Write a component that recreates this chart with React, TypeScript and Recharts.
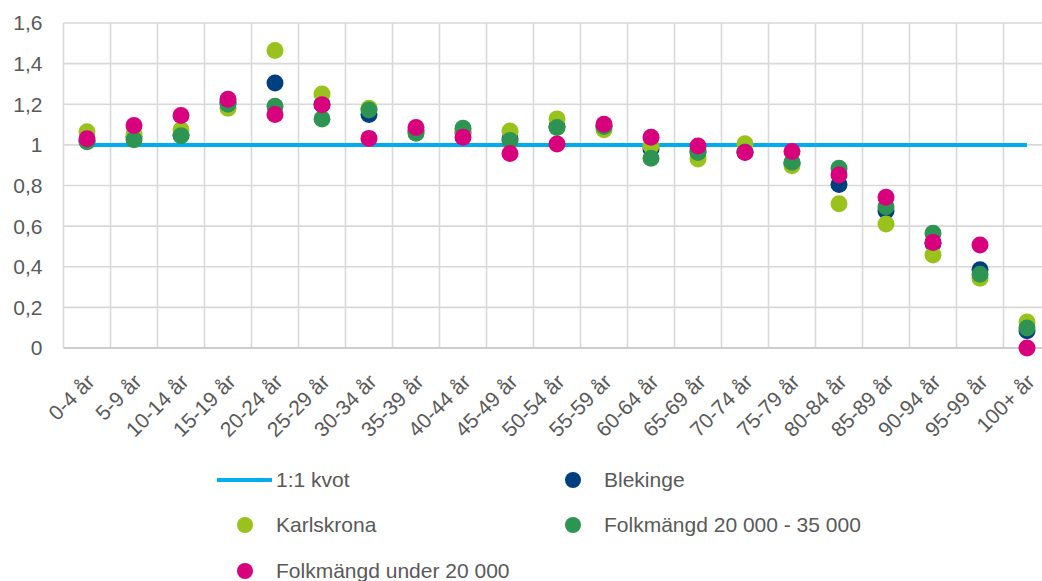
import { ComposedChart, Line, Scatter, XAxis, YAxis, CartesianGrid } from "recharts"

const ageGroups = [
  "0-4 år", "5-9 år", "10-14 år", "15-19 år", "20-24 år", "25-29 år", "30-34 år",
  "35-39 år", "40-44 år", "45-49 år", "50-54 år", "55-59 år", "60-64 år", "65-69 år",
  "70-74 år", "75-79 år", "80-84 år", "85-89 år", "90-94 år", "95-99 år", "100+ år",
]

const blekinge = [1.02, 1.04, 1.05, 1.21, 1.305, 1.2, 1.15, 1.07, 1.06, 1.03, 1.09, 1.09, 0.98, 0.97, 0.965, 0.91, 0.805, 0.675, 0.515, 0.385, 0.085]
const karlskrona = [1.065, 1.055, 1.075, 1.18, 1.465, 1.25, 1.18, 1.07, 1.07, 1.068, 1.128, 1.075, 0.995, 0.93, 1.005, 0.897, 0.71, 0.61, 0.458, 0.343, 0.128]
const folk20to35 = [1.015, 1.025, 1.045, 1.2, 1.19, 1.128, 1.172, 1.057, 1.082, 1.021, 1.085, 1.09, 0.934, 0.962, 0.965, 0.914, 0.885, 0.696, 0.565, 0.363, 0.098]
const folkUnder20 = [1.03, 1.095, 1.145, 1.225, 1.15, 1.198, 1.032, 1.085, 1.037, 0.958, 1.004, 1.101, 1.037, 0.995, 0.963, 0.967, 0.852, 0.742, 0.52, 0.507, 0]
const kvot = ageGroups.map(() => 1)

const yTicks = [0, 0.2, 0.4, 0.6, 0.8, 1, 1.2, 1.4, 1.6]

const series = [
  { key: "blekinge", name: "Blekinge", color: "#003f7f" },
  { key: "karlskrona", name: "Karlskrona", color: "#99c31c" },
  { key: "folk20to35", name: "Folkmängd 20 000 - 35 000", color: "#2e9452" },
  { key: "folkUnder20", name: "Folkmängd under 20 000", color: "#d9007e" },
]
const lineColor = "#00adef"

const rows = ageGroups.map((g, i) => ({
  x: i,
  group: g,
  kvot: kvot[i],
  blekinge: blekinge[i],
  karlskrona: karlskrona[i],
  folk20to35: folk20to35[i],
  folkUnder20: folkUnder20[i],
}))

const FONT = "'Liberation Sans', Arial, sans-serif"
const TEXT = "#595959"

const fmt = (v: number) => String(Number(v.toFixed(1))).replace(".", ",")

function AgeTick({ x, y, payload }: any) {
  const tx = x + 9
  const ty = y + 35
  return (
    <text x={tx} y={ty} transform={`rotate(-45, ${tx}, ${ty})`} textAnchor="end"
      fill={TEXT} fontSize={21} fontFamily={FONT}>
      {ageGroups[payload.value]}
    </text>
  )
}

const dot = (color: string) => (props: any) =>
  <circle cx={props.cx} cy={props.cy} r={8.5} fill={color} />

const legendItems = [
  { name: "1:1 kvot", color: lineColor, line: true },
  { name: series[0].name, color: series[0].color, line: false },
  { name: series[1].name, color: series[1].color, line: false },
  { name: series[2].name, color: series[2].color, line: false },
  { name: series[3].name, color: series[3].color, line: false },
]

export default function App() {
  return (
    <div style={{ position: "fixed", left: 0, top: 0, width: 1042, height: 581, overflow: "hidden", background: "#fff" }}>
      <ComposedChart width={1060} height={460} data={rows} margin={{ top: 23, right: 9.5, left: 0, bottom: 0 }}>
        <CartesianGrid
          stroke="#d9d9d9"
          strokeWidth={1.6}
          verticalCoordinatesGenerator={({ offset }: any) =>
            Array.from({ length: ageGroups.length + 1 }, (_, i) => offset.left + (i * offset.width) / ageGroups.length)
          }
        />
        <XAxis
          dataKey="x"
          type="number"
          domain={[-0.5, ageGroups.length - 0.5]}
          ticks={ageGroups.map((_, i) => i)}
          interval={0}
          height={112}
          tickLine={false}
          tickSize={0}
          tickMargin={0}
          axisLine={{ stroke: "#c6c6c6", strokeWidth: 1.6 }}
          tick={<AgeTick />}
        />
        <YAxis
          width={63.5}
          domain={[0, 1.6]}
          ticks={yTicks}
          tickFormatter={fmt}
          axisLine={false}
          tickLine={false}
          tickSize={0}
          tickMargin={21}
          tick={{ fill: TEXT, fontSize: 21, fontFamily: FONT }}
        />
        <Line dataKey="kvot" stroke={lineColor} strokeWidth={4} dot={false} isAnimationActive={false} />
        {series.map((s) => (
          <Scatter key={s.key} dataKey={s.key} name={s.name} fill={s.color} shape={dot(s.color)} isAnimationActive={false} />
        ))}
      </ComposedChart>
      <div style={{ position: "absolute", left: 217, top: 457, display: "grid", gridTemplateColumns: "328px 328px", fontFamily: FONT, fontSize: 21, lineHeight: "24px", color: TEXT }}>
        {legendItems.map((it) => (
          <div key={it.name} style={{ display: "flex", alignItems: "center", height: 45.5 }}>
            <div style={{ width: 55, display: "flex", justifyContent: "center", alignItems: "center" }}>
              {it.line
                ? <div style={{ width: 55, height: 4, background: it.color }} />
                : <div style={{ width: 16, height: 16, borderRadius: 8, background: it.color }} />}
            </div>
            <span style={{ marginLeft: 4, whiteSpace: "nowrap" }}>{it.name}</span>
          </div>
        ))}
      </div>
    </div>
  )
}
